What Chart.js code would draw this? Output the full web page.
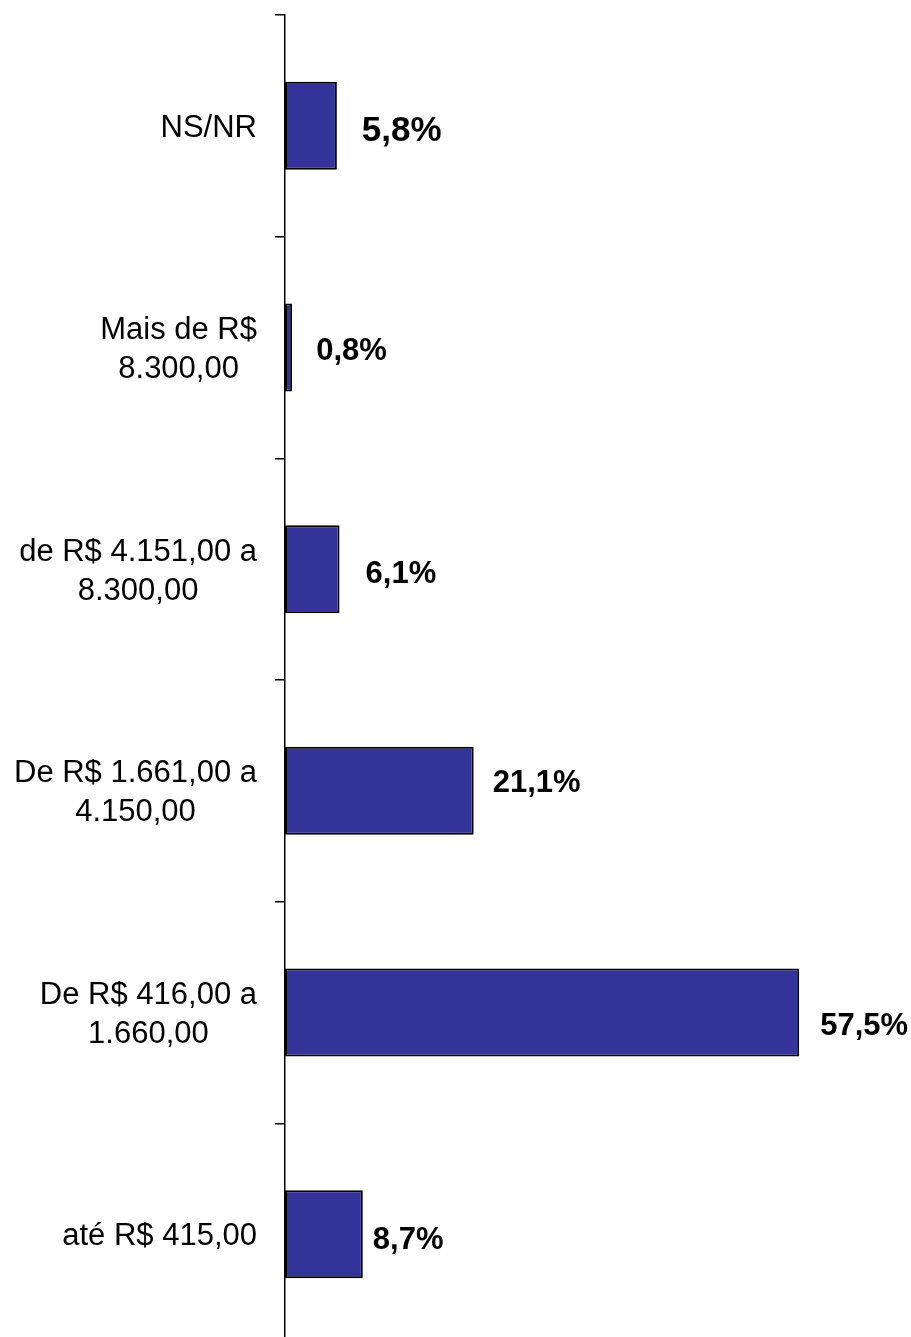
<!DOCTYPE html>
<html>
<head>
<meta charset="utf-8">
<script src="https://cdn.jsdelivr.net/npm/chart.js@4/dist/chart.umd.min.js"></script>
<style>
html, body { margin: 0; padding: 0; background: #ffffff; overflow: hidden; width: 911px; height: 1337px; }
canvas { display: block; }
</style>
</head>
<body>
<canvas id="c" width="911" height="1347"></canvas>
<script>
// ---- data ----
const categories = [
  ["NS/NR"],
  ["Mais de R$", "8.300,00"],
  ["de R$ 4.151,00 a", "8.300,00"],
  ["De R$ 1.661,00 a", "4.150,00"],
  ["De R$ 416,00 a", "1.660,00"],
  ["até R$ 415,00"]
];
const values = [5.8, 0.8, 6.1, 21.1, 57.5, 8.7];

// ---- label styling (not data) ----
const FONT = "'Liberation Sans', Arial, sans-serif";
const catFontSize = 31;
const catLineHeight = 39;
const valueFontSizes = [35, 31, 31, 31, 31, 31];
const valueGap = [25, 24, 26, 19, 21, 10];
const valueNudgeY = [2.5, 1.5, 3, -10, 11, 4];

const labelsPlugin = {
  id: 'labelsPlugin',
  afterDatasetsDraw(chart) {
    const ctx = chart.ctx;
    const meta = chart.getDatasetMeta(0);
    const yScale = chart.scales.y;
    const left = chart.chartArea.left;
    ctx.save();
    ctx.fillStyle = '#000000';
    ctx.font = catFontSize + 'px ' + FONT;
    const capH = catFontSize * 0.716;
    categories.forEach((lines, i) => {
      const cy = yScale.getPixelForValue(i);
      const widths = lines.map(l => ctx.measureText(l).width);
      const blockW = Math.max(...widths);
      const rightEdge = left - 28;
      const cx = rightEdge - blockW / 2;
      const n = lines.length;
      const firstBase = cy - ((n - 1) * catLineHeight + capH) / 2 + capH;
      ctx.textAlign = 'center';
      ctx.textBaseline = 'alphabetic';
      lines.forEach((l, k) => {
        ctx.fillText(l, cx, firstBase + k * catLineHeight);
      });
    });
    meta.data.forEach((bar, i) => {
      const size = valueFontSizes[i];
      ctx.font = 'bold ' + size + 'px ' + FONT;
      ctx.textAlign = 'left';
      ctx.textBaseline = 'alphabetic';
      const txt = values[i].toFixed(1).replace('.', ',') + '%';
      const x = bar.x + valueGap[i];
      const y = bar.y + valueNudgeY[i] + size * 0.716 / 2;
      ctx.fillText(txt, x, y);
    });
    ctx.restore();
  }
};

new Chart(document.getElementById('c'), {
  type: 'bar',
  data: {
    labels: categories,
    datasets: [{
      data: values,
      backgroundColor: '#333399',
      borderColor: '#000000',
      borderWidth: 2,
      borderSkipped: false,
      categoryPercentage: 1.0,
      barPercentage: 0.397
    }]
  },
  options: {
    indexAxis: 'y',
    responsive: false,
    animation: false,
    devicePixelRatio: 1,
    layout: { padding: { left: 275, top: 15, right: 0, bottom: 2 } },
    plugins: {
      legend: { display: false },
      tooltip: { enabled: false },
      title: { display: false }
    },
    scales: {
      x: {
        display: false,
        min: 0,
        max: 70
      },
      y: {
        display: true,
        grid: {
          display: true,
          offset: true,
          drawOnChartArea: false,
          drawTicks: true,
          tickLength: 10,
          color: '#000000',
          lineWidth: 1.5
        },
        border: { display: true, color: '#000000', width: 1.5 },
        ticks: { display: false }
      }
    }
  },
  plugins: [labelsPlugin]
});
</script>
</body>
</html>
